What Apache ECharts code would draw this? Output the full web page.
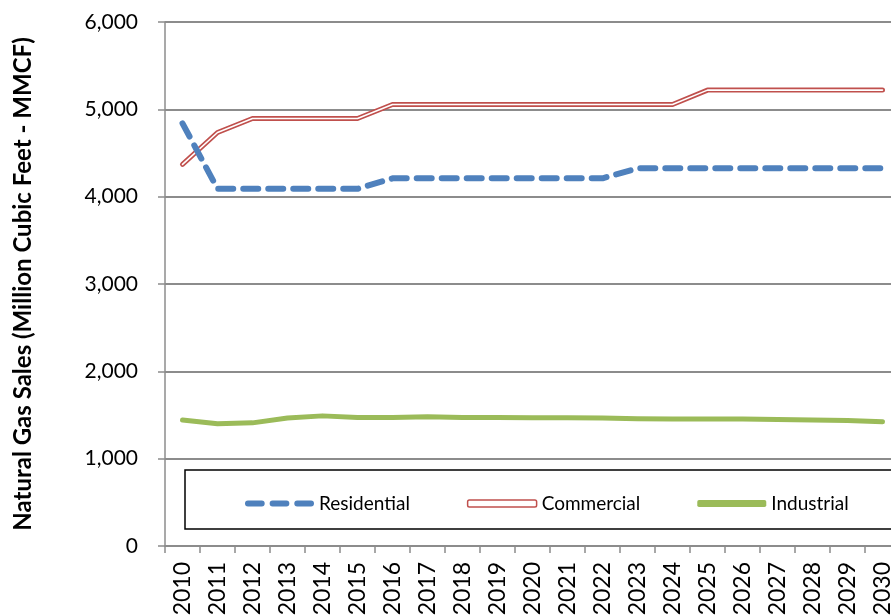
<!DOCTYPE html>
<html>
<head>
<meta charset="utf-8">
<script src="https://cdn.jsdelivr.net/npm/echarts@6/dist/echarts.min.js"></script>
<style>
  html, body { margin: 0; padding: 0; background: #fff; }
  #chart { width: 891px; height: 616px; }
</style>
</head>
<body>
<div id="chart"></div>
<script>
const years = ['2010', '2011', '2012', '2013', '2014', '2015', '2016', '2017', '2018', '2019', '2020',
    '2021', '2022', '2023', '2024', '2025', '2026', '2027', '2028', '2029', '2030'];

const residential = [4840, 4090, 4090, 4090, 4090, 4090, 4210, 4210, 4210, 4210, 4210,
    4210, 4210, 4325, 4325, 4325, 4325, 4325, 4325, 4325, 4325];
const commercial = [4370, 4735, 4895, 4895, 4895, 4895, 5055, 5055, 5055, 5055, 5055,
    5055, 5055, 5055, 5055, 5220, 5220, 5220, 5220, 5220, 5220];
const industrial = [1442, 1400, 1410, 1465, 1490, 1470, 1470, 1480, 1470, 1470, 1468,
    1468, 1465, 1458, 1455, 1455, 1455, 1448, 1442, 1436, 1422];

const yTicks = [0, 1000, 2000, 3000, 4000, 5000, 6000];

const FONT = 'Lato';
const GRID_GRAY = '#8c8c8c';

// legend icons (three rounded dashes for residential)
const DASH_ICON = 'path://M3,0 H17 A3,3 0 0 1 17,6 H3 A3,3 0 0 1 3,0 Z ' +
    'M28,0 H42 A3,3 0 0 1 42,6 H28 A3,3 0 0 1 28,0 Z ' +
    'M53,0 H67 A3,3 0 0 1 67,6 H53 A3,3 0 0 1 53,0 Z';

const chart = echarts.init(document.getElementById('chart'));

const option = {
    animation: false,
    backgroundColor: '#fff',
    textStyle: { fontFamily: FONT },
    grid: {
        left: 165,
        right: -9,
        top: 22,
        bottom: 70,
        containLabel: false,
        outerBoundsMode: 'none'
    },
    graphic: [{
        type: 'rect',
        z: 1,
        shape: { x: 185, y: 470, width: 730, height: 59 },
        style: { fill: '#fff', stroke: '#000', lineWidth: 1.5 }
    }],
    legend: {
        left: 240,
        top: 489,
        z: 5,
        itemWidth: 69,
        itemHeight: 7,
        itemGap: 57,
        textStyle: { fontFamily: FONT, fontSize: 19, color: '#000' },
        data: [
            {
                name: 'Residential',
                icon: DASH_ICON,
                itemStyle: { color: '#4f81bd', borderWidth: 0 }
            },
            {
                name: 'Commercial',
                icon: 'roundRect',
                itemStyle: { color: '#fff', borderColor: '#c0504d', borderWidth: 1.5 }
            },
            {
                name: 'Industrial',
                icon: 'roundRect',
                itemStyle: { color: '#9bbb59', borderWidth: 0 }
            }
        ]
    },
    xAxis: {
        type: 'category',
        data: years,
        boundaryGap: true,
        axisLine: { lineStyle: { color: GRID_GRAY, width: 1.5 } },
        axisTick: { show: true, length: 7, lineStyle: { color: GRID_GRAY, width: 1.5 } },
        axisLabel: {
            rotate: 90,
            interval: 0,
            margin: 16,
            fontFamily: FONT,
            fontSize: 23,
            color: '#000'
        }
    },
    yAxis: {
        type: 'value',
        min: 0,
        max: 6000,
        interval: 1000,
        name: 'Natural Gas Sales (Million Cubic Feet - MMCF)',
        nameLocation: 'middle',
        nameGap: 130,
        nameRotate: 90,
        nameTextStyle: { fontFamily: FONT, fontSize: 24, fontWeight: 'bold', color: '#000' },
        axisLine: { show: true, lineStyle: { color: GRID_GRAY, width: 1.5 } },
        axisTick: { show: true, length: 7, lineStyle: { color: GRID_GRAY, width: 1.5 } },
        splitLine: { show: true, lineStyle: { color: GRID_GRAY, width: 2 } },
        axisLabel: {
            margin: 27,
            fontFamily: FONT,
            fontSize: 21,
            color: '#000',
            customValues: yTicks,
            formatter: v => v.toLocaleString('en-US')
        }
    },
    series: [
        {
            name: 'Industrial',
            type: 'line',
            data: industrial,
            symbol: 'none',
            z: 3,
            lineStyle: { color: '#9bbb59', width: 5, cap: 'round', join: 'round' },
            itemStyle: { color: '#9bbb59' }
        },
        {
            name: 'Commercial',
            type: 'line',
            data: commercial,
            symbol: 'none',
            z: 3,
            lineStyle: { color: '#c0504d', width: 5, cap: 'round', join: 'round' },
            itemStyle: { color: '#c0504d' }
        },
        {
            name: 'Commercial inner',
            type: 'line',
            data: commercial,
            symbol: 'none',
            z: 4,
            silent: true,
            lineStyle: { color: '#fff', width: 1.6, cap: 'round', join: 'round' },
            itemStyle: { color: '#fff' }
        },
        {
            name: 'Residential',
            type: 'line',
            data: residential,
            symbol: 'none',
            z: 5,
            lineStyle: { color: '#4f81bd', width: 6, type: [15, 10], cap: 'round', join: 'round' },
            itemStyle: { color: '#4f81bd' }
        }
    ]
};

chart.setOption(option);

window.addEventListener('resize', () => {
    chart.resize();
});
</script>
</body>
</html>
